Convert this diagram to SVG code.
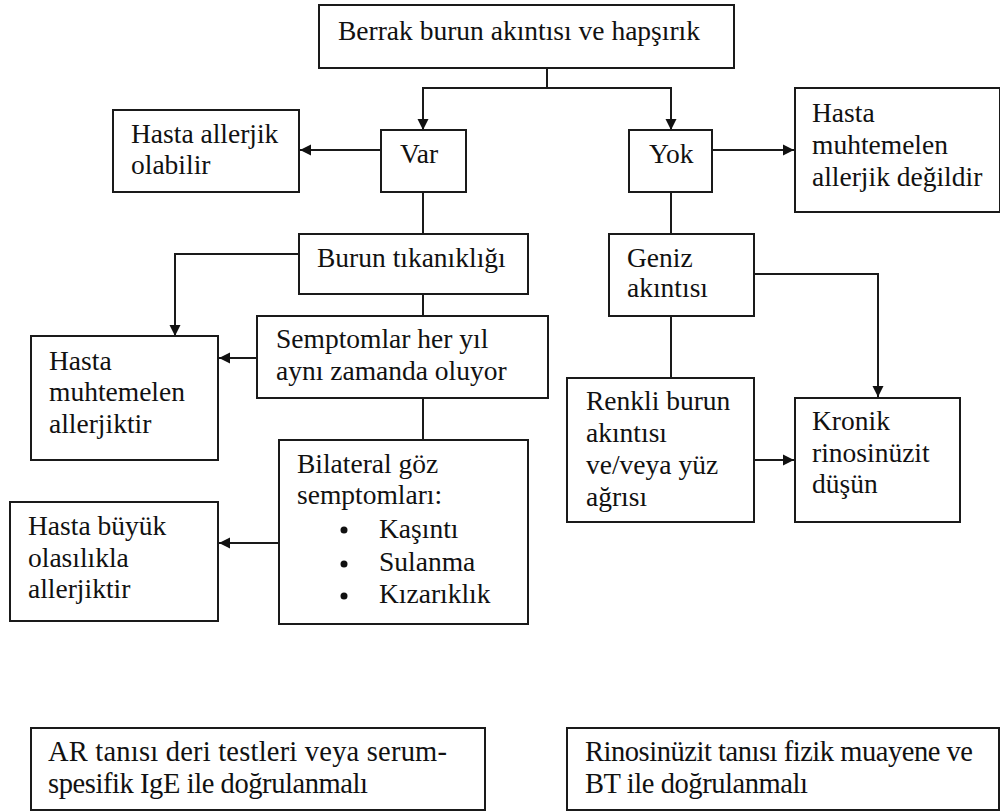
<svg xmlns="http://www.w3.org/2000/svg" width="1000" height="812" viewBox="0 0 1000 812">
<style>
  .box { fill: #fff; stroke: #1a1a1a; stroke-width: 2; }
  text { font-family: 'Liberation Serif', 'DejaVu Serif', serif; fill: #111; }
  .t { font-size: 27.5px; }
  .tb { font-size: 28.5px; }
  .c { fill: none; stroke: #1a1a1a; stroke-width: 2; }
  .ca { fill: none; stroke: #1a1a1a; stroke-width: 2; marker-end: url(#arr); }
</style>
<defs>
  <marker id="arr" markerUnits="userSpaceOnUse" markerWidth="12" markerHeight="12" refX="11" refY="6" orient="auto">
    <path d="M0,0.5 L11,6 L0,11.5 z" fill="#111"/>
  </marker>
</defs>
<rect width="1000" height="812" fill="#fff"/>

<g id="connectors">
  <path class="ca" d="M547,68 V88 H423 V130"/>
  <path class="ca" d="M547,88 H671 V130"/>
  <path class="ca" d="M381,150 H300"/>
  <path class="c" d="M423,192 V234"/>
  <path class="ca" d="M299,254 H175 V336"/>
  <path class="c" d="M423,294 V316"/>
  <path class="ca" d="M257,358 H219"/>
  <path class="c" d="M423,398 V440"/>
  <path class="ca" d="M279,543 H219"/>
  <path class="ca" d="M712,150 H794"/>
  <path class="c" d="M671,192 V234"/>
  <path class="ca" d="M754,274 H878 V397"/>
  <path class="c" d="M671,316 V378"/>
  <path class="ca" d="M754,460 H794"/>
</g>

<g id="n-top">
  <rect class="box" x="319" y="5" width="415" height="63"/>
  <text class="t" x="338" y="40">Berrak burun akıntısı ve hapşırık</text>
</g>
<g id="n-var">
  <rect class="box" x="381" y="130" width="85" height="62"/>
  <text class="t" x="400" y="163">Var</text>
</g>
<g id="n-yok">
  <rect class="box" x="629" y="130" width="83" height="62"/>
  <text class="t" x="649" y="163">Yok</text>
</g>
<g id="n-olabilir">
  <rect class="box" x="113" y="110" width="186" height="82"/>
  <text class="t" x="131" y="143">Hasta allerjik</text>
  <text class="t" x="131" y="174">olabilir</text>
</g>
<g id="n-degil">
  <rect class="box" x="795" y="88" width="205" height="124"/>
  <text class="t" x="812" y="122">Hasta</text>
  <text class="t" x="812" y="154">muhtemelen</text>
  <text class="t" x="812" y="186">allerjik değildir</text>
</g>
<g id="n-burun">
  <rect class="box" x="299" y="234" width="229" height="60"/>
  <text class="t" x="317" y="267">Burun tıkanıklığı</text>
</g>
<g id="n-geniz">
  <rect class="box" x="609" y="234" width="145" height="82"/>
  <text class="t" x="627" y="267">Geniz</text>
  <text class="t" x="627" y="297">akıntısı</text>
</g>
<g id="n-semptom">
  <rect class="box" x="257" y="316" width="291" height="82"/>
  <text class="t" x="276" y="348">Semptomlar her yıl</text>
  <text class="t" x="276" y="380">aynı zamanda oluyor</text>
</g>
<g id="n-muhtemelen">
  <rect class="box" x="31" y="336" width="187" height="124"/>
  <text class="t" x="49" y="370">Hasta</text>
  <text class="t" x="49" y="401">muhtemelen</text>
  <text class="t" x="49" y="433">allerjiktir</text>
</g>
<g id="n-bilateral">
  <rect class="box" x="279" y="440" width="249" height="184"/>
  <text class="t" x="297" y="473">Bilateral göz</text>
  <text class="t" x="297" y="504">semptomları:</text>
  <circle cx="344" cy="530" r="3.5" fill="#111"/>
  <circle cx="344" cy="564" r="3.5" fill="#111"/>
  <circle cx="344" cy="596" r="3.5" fill="#111"/>
  <text class="t" x="379" y="538">Kaşıntı</text>
  <text class="t" x="379" y="571">Sulanma</text>
  <text class="t" x="379" y="603">Kızarıklık</text>
</g>
<g id="n-buyuk">
  <rect class="box" x="10" y="502" width="208" height="119"/>
  <text class="t" x="28" y="535">Hasta büyük</text>
  <text class="t" x="28" y="567">olasılıkla</text>
  <text class="t" x="28" y="598">allerjiktir</text>
</g>
<g id="n-renkli">
  <rect class="box" x="567" y="378" width="187" height="144"/>
  <text class="t" x="586" y="410">Renkli burun</text>
  <text class="t" x="586" y="442">akıntısı</text>
  <text class="t" x="586" y="474">ve/veya yüz</text>
  <text class="t" x="586" y="506">ağrısı</text>
</g>
<g id="n-kronik">
  <rect class="box" x="795" y="398" width="165" height="124"/>
  <text class="t" x="812" y="430">Kronik</text>
  <text class="t" x="812" y="462">rinosinüzit</text>
  <text class="t" x="812" y="493">düşün</text>
</g>
<g id="n-ar">
  <rect class="box" x="31" y="728" width="454" height="82"/>
  <text class="tb" x="48" y="761" textLength="399" lengthAdjust="spacing">AR tanısı deri testleri veya serum-</text>
  <text class="tb" x="48" y="793" textLength="320" lengthAdjust="spacing">spesifik IgE ile doğrulanmalı</text>
</g>
<g id="n-rino">
  <rect class="box" x="567" y="728" width="432" height="82"/>
  <text class="tb" x="585" y="761" textLength="388" lengthAdjust="spacing">Rinosinüzit tanısı fizik muayene ve</text>
  <text class="tb" x="585" y="793" textLength="223" lengthAdjust="spacing">BT ile doğrulanmalı</text>
</g>
</svg>
